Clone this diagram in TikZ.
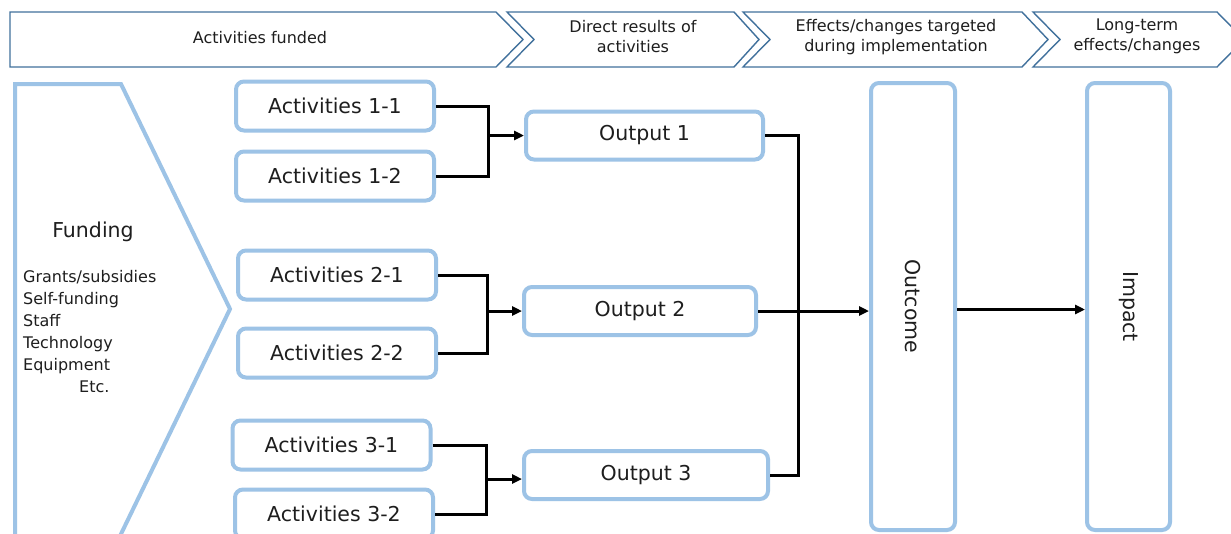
\documentclass[tikz,border=0pt]{standalone}
\usepackage{fontspec}
\usepackage{graphicx}
\setmainfont{DejaVu Sans}
\usetikzlibrary{arrows.meta}
\definecolor{hdr}{RGB}{65,113,156}
\definecolor{lb}{RGB}{157,195,230}
\definecolor{txt}{RGB}{30,30,30}
\begin{document}
\begin{tikzpicture}[x=1pt,y=-1pt,
  hdrshape/.style={draw=hdr,line width=1.4pt,fill=white,line join=miter},
  hdrtext/.style={font=\fontsize{16}{20}\selectfont,text=txt,align=center,inner sep=0},
  box/.style={draw=lb,line width=4pt,rounded corners=8pt,fill=white,text=txt,font=\fontsize{20.5}{24}\selectfont,inner sep=0},
  actbox/.style={box,minimum width=198pt,minimum height=49pt},
  outbox/.style={box,minimum height=48pt},
  tallbox/.style={box,minimum height=447pt},
  conn/.style={draw=black,line width=3pt},
  arr/.style={conn,-{Triangle[length=10pt,width=9pt]}},
  fundtext/.style={font=\fontsize{16}{20}\selectfont,text=txt,inner sep=0,anchor=base west},
]
\clip (0,0) rectangle (1231,533);
\fill[white] (0,0) rectangle (1231,533);

% header chevrons
\draw[hdrshape] (10,12) -- (496,12) -- (523,39.5) -- (496,67) -- (10,67) -- cycle;
\draw[hdrshape] (507,12) -- (734,12) -- (759,39.5) -- (734,67) -- (507,67) -- (534,39.5) -- cycle;
\draw[hdrshape] (743,12) -- (1022,12) -- (1048,39.5) -- (1022,67) -- (743,67) -- (770,39.5) -- cycle;
\draw[hdrshape] (1033,12) -- (1217,12) -- (1244,39.5) -- (1217,67) -- (1033,67) -- (1060,39.5) -- cycle;
\node[hdrtext] (h1) at (260,38) {Activities funded};
\node[hdrtext] (h2) at (633,37) {Direct results of\\activities};
\node[hdrtext] (h3) at (896,37) {Effects/changes targeted\\during implementation};
\node[hdrtext] (h4) at (1137,36) {Long-term\\effects/changes};

% funding shape
\draw[draw=lb,line width=4pt,fill=white,line join=miter] (15,560) -- (15,84) -- (121,84) -- (230,309) -- (121,534) -- (108,560);
\node[font=\fontsize{20.5}{24}\selectfont,text=txt,inner sep=0] (fund) at (93,232) {Funding};
\node[fundtext] (f1) at (23,282.5) {Grants/subsidies};
\node[fundtext] (f2) at (23,304.5) {Self-funding};
\node[fundtext] (f3) at (23,326.5) {Staff};
\node[fundtext] (f4) at (23,348.3) {Technology};
\node[fundtext] (f5) at (23,370.2) {Equipment};
\node[fundtext] (f6) at (79,392) {Etc.};

% activity boxes
\node[actbox] (a11) at (335,106) {Activities 1-1};
\node[actbox] (a12) at (335,176) {Activities 1-2};
\node[actbox] (a21) at (337,275) {Activities 2-1};
\node[actbox] (a22) at (337,353) {Activities 2-2};
\node[actbox] (a31) at (331.5,445) {Activities 3-1};
\node[actbox] (a32) at (334,514) {Activities 3-2};

% outputs
\node[outbox,minimum width=237pt] (o1) at (644.5,135.5) {Output 1};
\node[outbox,minimum width=232pt] (o2) at (640,311) {Output 2};
\node[outbox,minimum width=244pt] (o3) at (646,475) {Output 3};

% outcome / impact
\node[tallbox,minimum width=84pt] (oc) at (913,306.5) {\rotatebox{-90}{Outcome}};
\node[tallbox,minimum width=83pt] (im) at (1128.5,306.5) {\rotatebox{-90}{Impact}};

% connectors
\coordinate (j1) at (488,135.5);
\coordinate (j2) at (487,311);
\coordinate (j3) at (486,479);
\coordinate (bus) at (798,135.5);
\coordinate (mid) at (0,309.5);

\draw[conn] (a11.east) -| (j1) |- (a12.east);
\draw[arr] (j1) -- (j1 -| o1.west);
\draw[conn] (a21.east) -| (j2) |- (a22.east);
\draw[arr] (j2) -- (j2 -| o2.west);
\draw[conn] (a31.east) -| (j3) |- (a32.east);
\draw[arr] (j3) -- (j3 -| o3.west);

\draw[conn] (o1.east) -| (o3.east -| bus) -- (o3.east);
\draw[arr] (o2.east) -- (oc.west |- o2.east);
\draw[arr] (oc.east |- mid) -- (im.west |- mid);
\end{tikzpicture}
\end{document}
